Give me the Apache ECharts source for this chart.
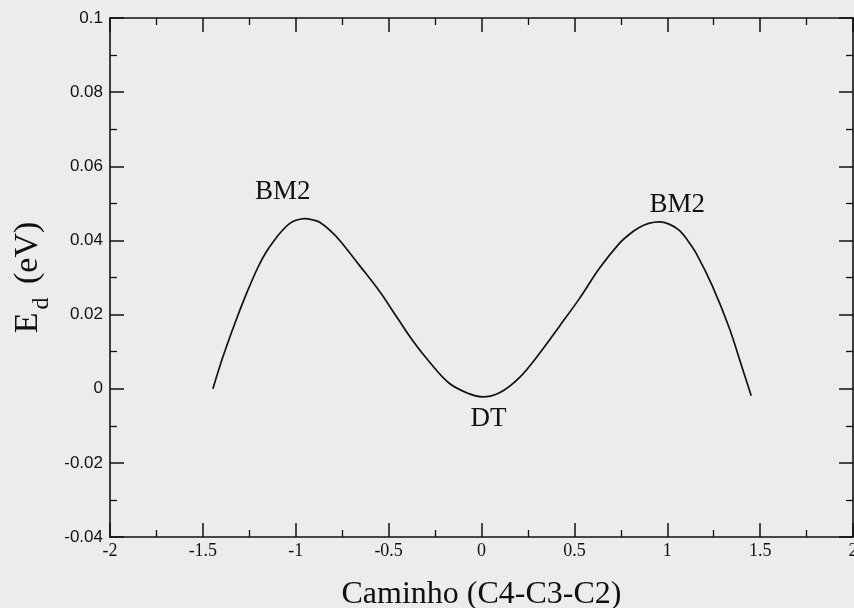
<!DOCTYPE html>
<html>
<head>
<meta charset="utf-8">
<script src="https://cdn.jsdelivr.net/npm/echarts@6/dist/echarts.min.js"></script>
<style>
html,body{margin:0;padding:0;background:#ececec;}
#c{width:854px;height:608px;}
</style>
</head>
<body>
<div id="c"></div>
<script>
// Path coordinate (C4-C3-C2)
const pathX = [-1.446, -1.392, -1.328, -1.265, -1.204, -1.160, -1.113, -1.070, -1.032, -0.995, -0.952, -0.905, -0.871, -0.820, -0.763, -0.656, -0.548, -0.457, -0.371, -0.280, -0.172, -0.065, 0.005, 0.097, 0.204, 0.312, 0.419, 0.527, 0.634, 0.742, 0.800, 0.849, 0.900, 0.957, 1.010, 1.065, 1.110, 1.156, 1.242, 1.333, 1.403, 1.452];
// Energy E_d (eV)
const energy = [0.0000, 0.0086, 0.0176, 0.0257, 0.0327, 0.0368, 0.0402, 0.0428, 0.0446, 0.0455, 0.0459, 0.0455, 0.0449, 0.0429, 0.0400, 0.0332, 0.0262, 0.0194, 0.0130, 0.0072, 0.0014, -0.0014, -0.0022, -0.0011, 0.0030, 0.0095, 0.0168, 0.0243, 0.0324, 0.0392, 0.0418, 0.0435, 0.0446, 0.0450, 0.0444, 0.0427, 0.0400, 0.0365, 0.0278, 0.0165, 0.0057, -0.0019];
// Annotations
const annotNames = ['BM2', 'BM2', 'DT'];
const annotX = [-1.070, 1.054, 0.038];
const annotY = [0.0530, 0.0495, -0.0081];
// Tick labels
const xTicks = {min: -2, max: 2, step: 0.5};
const yTicks = {min: -0.04, max: 0.1, step: 0.02};

const chart = echarts.init(document.getElementById('c'), null, {renderer: 'canvas'});
const serif = '"Liberation Serif", "DejaVu Serif", serif';
const sans = '"Liberation Sans", "DejaVu Sans", sans-serif';

const lineData = pathX.map((x, i) => [x, energy[i]]);
const annotData = annotNames.map((n, i) => ({value: [annotX[i], annotY[i]], name: n}));

const axisLine = {show: true, onZero: false, lineStyle: {color: '#111', width: 1.6}};
const axisTick = {show: true, inside: true, length: 14, lineStyle: {color: '#111', width: 1.5}};
const minorTick = {show: true, splitNumber: 2, length: 7, lineStyle: {color: '#111', width: 1.3}};
const fmt = v => String(+v.toFixed(2));

chart.setOption({
  backgroundColor: '#ececec',
  animation: false,
  grid: {left: 110, right: 1, top: 18, bottom: 71, containLabel: false, outerBoundsMode: 'none'},
  xAxis: [{
    type: 'value', min: xTicks.min, max: xTicks.max, interval: xTicks.step,
    position: 'bottom',
    axisLine, axisTick, minorTick,
    splitLine: {show: false}, minorSplitLine: {show: false},
    axisLabel: {color: '#111', fontFamily: serif, fontSize: 18, margin: 5, formatter: fmt},
    name: 'Caminho (C4-C3-C2)', nameLocation: 'middle', nameGap: 42,
    nameTextStyle: {fontFamily: serif, fontSize: 32, color: '#111'}
  }, {
    type: 'value', min: xTicks.min, max: xTicks.max, interval: xTicks.step,
    position: 'top',
    axisLine, axisTick, minorTick,
    splitLine: {show: false}, axisLabel: {show: false}
  }],
  yAxis: [{
    type: 'value', min: yTicks.min, max: yTicks.max, interval: yTicks.step,
    position: 'left',
    axisLine, axisTick, minorTick,
    splitLine: {show: false}, minorSplitLine: {show: false},
    axisLabel: {color: '#111', fontFamily: sans, fontSize: 17, margin: 7, formatter: fmt},
    name: '{e|E}{d|d}{e| (eV)}', nameLocation: 'middle', nameGap: 62, nameRotate: 90,
    nameTextStyle: {
      rich: {
        e: {fontFamily: serif, fontSize: 34, color: '#111', verticalAlign: 'bottom', lineHeight: 40},
        d: {fontFamily: serif, fontSize: 24, color: '#111', verticalAlign: 'bottom', lineHeight: 40, padding: [0, 5, -8, 3]}
      }
    }
  }, {
    type: 'value', min: yTicks.min, max: yTicks.max, interval: yTicks.step,
    position: 'right',
    axisLine, axisTick, minorTick,
    splitLine: {show: false}, axisLabel: {show: false}
  }],
  series: [{
    type: 'line', data: lineData, smooth: 0.35, showSymbol: false,
    lineStyle: {color: '#111', width: 1.7}, xAxisIndex: 0, yAxisIndex: 0
  }, {
    type: 'scatter', data: annotData, symbol: 'circle', symbolSize: 2,
    itemStyle: {color: 'rgba(0,0,0,0)', opacity: 1},
    label: {show: true, position: 'inside', formatter: p => p.name, opacity: 1,
      fontFamily: serif, fontSize: 27, color: '#111', textBorderWidth: 0},
    emphasis: {disabled: true},
    xAxisIndex: 0, yAxisIndex: 0
  }]
});
</script>
</body>
</html>
